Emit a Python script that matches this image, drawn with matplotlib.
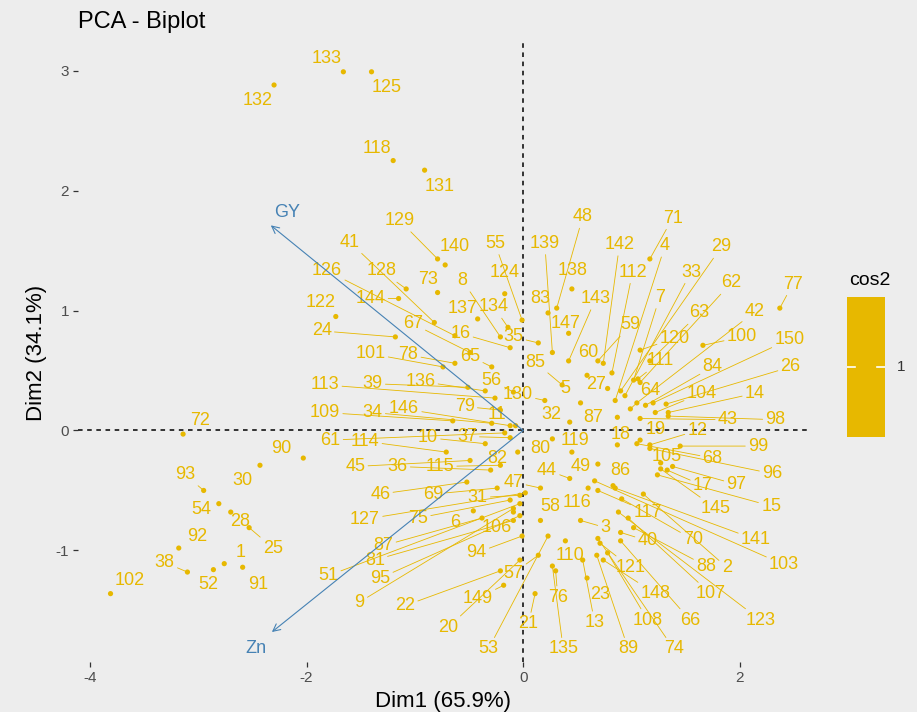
import matplotlib
matplotlib.use("Agg")
import matplotlib.pyplot as plt
import numpy as np

plt.rcParams['font.family'] = ['Liberation Sans', 'DejaVu Sans']
plt.rcParams['axes.unicode_minus'] = False

# Individuals: name, coordinates on Dim1/Dim2, and where each repelled label sits
ind_labels = [
    "133", "125", "132", "118", "131", "72", "90", "30", "93", "54", "28", "25", "92", "38", "52", "1", "91", "102",
    "129", "140", "41", "126", "128", "73", "144", "122", "24", "67", "16", "8", "137", "134", "101", "78", "65",
    "55", "124", "83", "139", "35", "138", "147", "143", "48", "142", "112", "4", "71", "29", "33", "7", "59",
    "62", "63", "120", "42", "77", "100", "150", "60", "111", "84", "26", "27", "5", "85", "56", "130", "64",
    "104", "14", "43", "98", "32", "87", "113", "39", "136", "109", "34", "146", "79", "11", "61", "114", "10",
    "37", "45", "36", "115", "82", "80", "119", "18", "19", "12", "99", "68", "105", "96", "44", "49", "86",
    "47", "17", "97", "46", "69", "31", "58", "116", "145", "15", "127", "75", "6", "106", "3", "117", "141",
    "70", "2", "103", "87", "81", "94", "40", "110", "51", "95", "88", "121", "9", "22", "148", "107", "149",
    "23", "13", "108", "66", "123", "20", "21", "76", "53", "135", "89", "74", "57",
]
dim1 = [
    -1.66, -1.40, -2.30, -1.20, -0.91, -3.14, -2.03, -2.43, -2.95, -2.81, -2.70, -2.53, -3.18, -3.10, -2.86, -2.76, -2.59, -3.81,
    -0.79, -0.72, -0.82, -0.63, -1.08, -0.79, -1.15, -1.73, -1.18, -0.49, -0.12, -0.21, -0.42, -0.14, -0.74, -0.63, -0.29,
    -0.01, -0.17, 0.23, 0.27, 0.14, 0.45, 0.42, 0.42, 0.31, 0.74, 0.82, 0.85, 1.17, 0.90, 0.94, 1.02, 0.69,
    1.08, 1.17, 1.08, 1.05, 2.37, 1.66, 1.20, 0.59, 1.06, 1.13, 1.32, 0.78, 0.53, 0.36, -0.09, 0.20, 0.99,
    1.22, 1.34, 1.08, 1.34, 0.43, 0.87, -0.26, -0.51, -0.35, -0.65, -0.29, -0.12, -0.21, -0.07, -0.17, -0.71, -0.35,
    -0.12, -0.49, -0.30, -0.21, -0.05, 0.27, 0.45, 0.87, 1.08, 1.17, 1.45, 1.05, 1.27, 1.17, 0.43, 0.69, 0.83,
    0.16, 1.33, 1.38, -0.52, -0.24, -0.03, 0.16, 0.60, 1.27, 1.24, 0.02, -0.12, -0.46, -0.09, 0.53, 0.69, 0.85,
    0.91, 1.11, 0.66, -0.38, -0.09, -0.01, 0.90, 0.39, -0.03, -0.03, 1.02, 0.71, -0.09, -0.21, 0.74, 0.97, -0.18,
    0.59, 0.55, 0.78, 0.90, 0.88, -0.03, 0.11, 0.30, 0.23, 0.27, 0.68, 0.69, 0.14,
]
dim2 = [
    2.99, 2.99, 2.88, 2.25, 2.17, -0.03, -0.23, -0.29, -0.50, -0.61, -0.68, -0.81, -0.98, -1.18, -1.16, -1.11, -1.14, -1.36,
    1.43, 1.38, 0.90, 0.79, 1.18, 1.15, 1.10, 0.95, 0.78, 0.65, 0.69, 0.78, 0.93, 0.86, 0.53, 0.56, 0.53,
    0.92, 1.14, 0.98, 0.65, 0.73, 1.18, 0.81, 0.58, 1.02, 0.56, 0.48, 0.25, 1.43, 0.33, 0.29, 0.42, 0.58,
    0.40, 0.58, 0.67, 0.23, 1.02, 0.71, 0.23, 0.46, 0.43, 0.21, 0.22, 0.35, 0.23, 0.38, 0.32, 0.25, 0.18,
    0.15, 0.15, 0.10, 0.12, 0.07, 0.11, 0.27, 0.36, 0.33, 0.08, 0.06, 0.04, 0.17, 0.04, -0.02, -0.18, -0.11,
    -0.06, -0.25, -0.33, -0.29, -0.18, -0.07, -0.18, -0.12, -0.08, -0.12, -0.13, -0.11, -0.27, -0.15, -0.40, -0.28, -0.46,
    -0.48, -0.33, -0.30, -0.43, -0.48, -0.54, -0.75, -0.48, -0.32, -0.37, -0.52, -0.58, -0.67, -0.68, -0.75, -0.50, -0.48,
    -0.57, -0.53, -0.42, -0.73, -0.75, -0.88, -0.85, -0.92, -0.61, -0.71, -0.81, -0.94, -0.65, -1.17, -1.08, -0.73, -1.29,
    -1.23, -1.08, -1.02, -0.92, -0.68, -1.08, -1.36, -1.17, -0.88, -1.13, -1.04, -0.90, -1.04,
]
label_dim1 = [
    -1.81, -1.26, -2.45, -1.35, -0.77, -2.98, -2.23, -2.59, -3.12, -2.97, -2.61, -2.31, -3.01, -3.31, -2.91, -2.61, -2.45, -3.63,
    -1.14, -0.63, -1.60, -1.81, -1.31, -0.88, -1.41, -1.87, -1.86, -1.02, -0.58, -0.56, -0.56, -0.27, -1.41, -1.06, -0.49,
    -0.26, -0.17, 0.16, 0.20, -0.09, 0.46, 0.39, 0.67, 0.55, 0.89, 1.01, 1.31, 1.38, 1.83, 1.55, 1.26, 0.99,
    1.92, 1.63, 1.40, 2.14, 2.49, 2.02, 2.46, 0.60, 1.27, 1.75, 2.47, 0.67, 0.39, 0.11, -0.29, -0.05, 1.17,
    1.65, 2.14, 1.89, 2.33, 0.26, 0.65, -1.83, -1.39, -0.95, -1.83, -1.39, -1.10, -0.54, -0.24, -1.78, -1.46, -0.88,
    -0.52, -1.55, -1.16, -0.77, -0.24, 0.16, 0.48, 0.90, 1.22, 1.61, 2.17, 1.75, 1.33, 2.30, 0.22, 0.53, 0.90,
    -0.09, 1.66, 1.97, -1.32, -0.83, -0.42, 0.25, 0.50, 1.78, 2.29, -1.46, -0.97, -0.63, -0.24, 0.76, 1.15, 2.15,
    1.57, 1.88, 2.41, -1.29, -1.37, -0.43, 1.15, 0.43, -1.80, -1.32, 1.69, 0.99, -1.51, -1.09, 1.22, 1.73, -0.42,
    0.71, 0.66, 1.15, 1.54, 2.19, -0.69, 0.05, 0.32, -0.32, 0.37, 0.97, 1.39, -0.09,
]
label_dim2 = [
    3.10, 2.86, 2.75, 2.35, 2.03, 0.08, -0.15, -0.42, -0.37, -0.66, -0.76, -0.98, -0.88, -1.10, -1.28, -1.02, -1.28, -1.25,
    1.75, 1.53, 1.57, 1.33, 1.33, 1.26, 1.10, 1.07, 0.83, 0.89, 0.81, 1.25, 1.02, 1.03, 0.64, 0.63, 0.62,
    1.56, 1.32, 1.10, 1.56, 0.78, 1.33, 0.89, 1.10, 1.78, 1.55, 1.32, 1.54, 1.77, 1.53, 1.32, 1.11, 0.88,
    1.23, 0.98, 0.77, 0.99, 1.22, 0.78, 0.76, 0.65, 0.58, 0.53, 0.53, 0.38, 0.35, 0.57, 0.42, 0.30, 0.33,
    0.31, 0.31, 0.09, 0.09, 0.13, 0.11, 0.38, 0.39, 0.41, 0.15, 0.15, 0.18, 0.20, 0.13, -0.08, -0.09, -0.06,
    -0.05, -0.30, -0.30, -0.30, -0.23, -0.15, -0.08, -0.03, 0.01, 0.00, -0.13, -0.23, -0.22, -0.36, -0.33, -0.30, -0.33,
    -0.43, -0.46, -0.45, -0.53, -0.53, -0.56, -0.63, -0.60, -0.65, -0.63, -0.74, -0.73, -0.77, -0.81, -0.81, -0.68, -0.91,
    -0.91, -1.14, -1.12, -0.96, -1.08, -1.02, -0.92, -1.04, -1.21, -1.23, -1.13, -1.14, -1.43, -1.46, -1.36, -1.36, -1.40,
    -1.37, -1.60, -1.58, -1.58, -1.58, -1.64, -1.61, -1.39, -1.82, -1.82, -1.82, -1.82, -1.19,
]

# Variables (arrows from the origin)
var_names = ["GY", "Zn"]
var_dim1 = [-2.33, -2.32]
var_dim2 = [1.71, -1.68]
var_label_dim1 = [-2.18, -2.47]
var_label_dim2 = [1.82, -1.82]

explained = [65.9, 34.1]
cos2_breaks = [1]

GOLD = "#E7B800"
BG = "#EDEDED"
STEEL = "#4682B4"

fig = plt.figure(figsize=(9.17, 7.12), dpi=100, facecolor=BG)
ax = fig.add_axes([0.0851, 0.0702, 0.796, 0.8694])
ax.set_facecolor(BG)
ax.set_xlim(-4.11, 2.63)
ax.set_ylim(-1.93, 3.23)
for sp in ax.spines.values():
    sp.set_visible(False)

ax.axhline(0, color="black", lw=1.1, ls=(0, (3, 3)), zorder=1)
ax.axvline(0, color="black", lw=1.1, ls=(0, (3, 3)), zorder=1)

ax.scatter(dim1, dim2, s=14, color=GOLD, edgecolors="none", zorder=3)

# repelled labels with leader segments
sx, sy = 108.3, 120.0
for name, x, y, lx, ly in zip(ind_labels, dim1, dim2, label_dim1, label_dim2):
    far = np.hypot((lx - x) * sx, (ly - y) * sy) > 24
    props = dict(arrowstyle="-", color=GOLD, lw=0.6, shrinkA=0, shrinkB=0) if far else None
    ax.annotate(name, xy=(x, y), xytext=(lx, ly), textcoords="data",
                ha="center", va="center", fontsize=13, color=GOLD,
                arrowprops=props, zorder=4)

for name, vx, vy, tx, ty in zip(var_names, var_dim1, var_dim2, var_label_dim1, var_label_dim2):
    ax.annotate("", xy=(vx, vy), xytext=(0, 0),
                arrowprops=dict(arrowstyle="->", color=STEEL, lw=0.8,
                                shrinkA=0, shrinkB=0, mutation_scale=13), zorder=5)
    ax.text(tx, ty, name, color=STEEL, fontsize=13, ha="center", va="center", zorder=5)

ax.set_xticks([-4, -2, 0, 2])
ax.set_yticks([-1, 0, 1, 2, 3])
ax.tick_params(length=3.5, width=0.9, color="#333333", labelsize=11,
               labelcolor="#4D4D4D", pad=3)
ax.set_xlabel(f"Dim1 ({explained[0]}%)", fontsize=16, labelpad=4)
ax.set_ylabel(f"Dim2 ({explained[1]}%)", fontsize=16, labelpad=6)

fig.text(78 / 917, 1 - 22 / 712, "PCA - Biplot", fontsize=17, ha="left", va="center")

# cos2 legend bar
cax = fig.add_axes([847 / 917, 1 - 437 / 712, 38 / 917, 140 / 712])
cax.set_facecolor(GOLD)
for sp in cax.spines.values():
    sp.set_visible(False)
cax.set_xticks([])
cax.set_yticks([])
cax.set_xlim(0, 1)
cax.set_ylim(0.5, 1.5)
for b in cos2_breaks:
    cax.plot([0, 0.2], [b, b], color="white", lw=1.2)
    cax.plot([0.8, 1], [b, b], color="white", lw=1.2)
    fig.text(897 / 917, cax.transData.transform((0, b))[1] / fig.bbox.height, str(b),
             fontsize=11, color="#333333", ha="left", va="center")
fig.text(870 / 917, 1 - 280 / 712, "cos2", fontsize=14, ha="center", va="center")

fig.savefig("out.png", dpi=100, facecolor=BG)
